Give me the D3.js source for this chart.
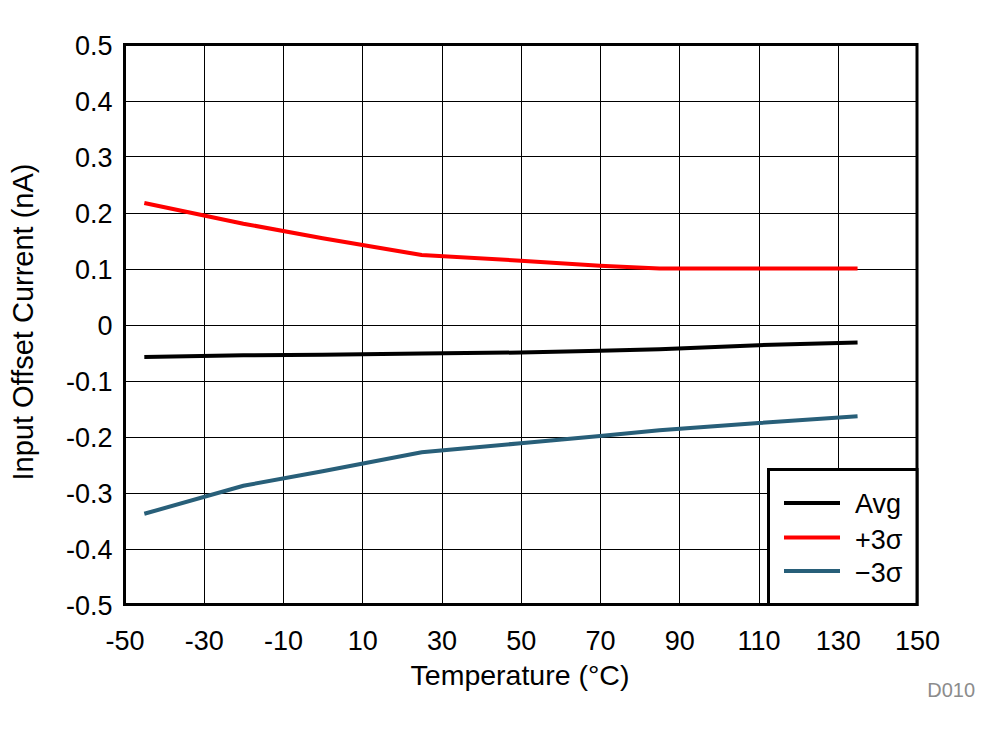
<!DOCTYPE html>
<html><head><meta charset="utf-8">
<script src="https://cdn.jsdelivr.net/npm/d3@7"></script>
<style>body{margin:0;background:#fff}svg{display:block}text{font-family:"Liberation Sans",Arial,sans-serif}</style>
</head><body>
<script>
const temps = [-45, -20, 0, 25, 50, 70, 85, 110, 135];
const avgVals = [-0.058, -0.055, -0.054, -0.052, -0.050, -0.047, -0.044, -0.037, -0.032];
const plusVals = [0.217, 0.180, 0.154, 0.124, 0.114, 0.105, 0.100, 0.100, 0.100];
const minusVals = [-0.338, -0.288, -0.262, -0.228, -0.212, -0.199, -0.189, -0.176, -0.164];
const xTicks = [-50, -30, -10, 10, 30, 50, 70, 90, 110, 130, 150];
const yTicks = [-0.5, -0.4, -0.3, -0.2, -0.1, 0, 0.1, 0.2, 0.3, 0.4, 0.5];
const seriesNames = ["Avg", "+3\u03C3", "\u22123\u03C3"];
const seriesColors = ["#000000", "#ff0000", "#285f79"];

const W = 1000, H = 734;
const L = 124.5, R = 917, T = 44.5, B = 604.5;
const svg = d3.select("body").append("svg").attr("width", W).attr("height", H);
const x = d3.scaleLinear().domain([-50, 150]).range([L, R]);
const y = d3.scaleLinear().domain([-0.5, 0.5]).range([B, T]);
const FONT = "Liberation Sans, Arial, sans-serif";

// grid
const grid = svg.append("g");
grid.selectAll("line.v").data(xTicks).join("line")
  .attr("x1", d => Math.round(x(d)) + 0.5).attr("x2", d => Math.round(x(d)) + 0.5)
  .attr("y1", T).attr("y2", B).attr("stroke", "#000").attr("stroke-width", 1);
grid.selectAll("line.h").data(yTicks).join("line")
  .attr("y1", d => Math.round(y(d)) + 0.5).attr("y2", d => Math.round(y(d)) + 0.5)
  .attr("x1", L).attr("x2", R).attr("stroke", "#000").attr("stroke-width", 1);

// axes labels (hyphen-minus as in the reference)
const fmtY = d => d === 0 ? "0" : d3.format(".1f")(d).replace("\u2212", "-");
const yAxis = d3.axisLeft(y).tickValues(yTicks).tickFormat(fmtY).tickSize(0).tickPadding(12);
const gy = svg.append("g").attr("transform", `translate(${L},0)`).call(yAxis);
gy.select(".domain").remove();
gy.attr("font-size", 27).attr("font-family", FONT);
gy.selectAll("text").attr("fill", "#000").attr("dy", "0.36em");
const xAxis = d3.axisBottom(x).tickValues(xTicks).tickFormat(d => String(d)).tickSize(0).tickPadding(0);
const gx = svg.append("g").attr("transform", `translate(0,${B})`).call(xAxis);
gx.select(".domain").remove();
gx.attr("font-size", 27).attr("font-family", FONT);
gx.selectAll("text").attr("fill", "#000").attr("y", 45).attr("dy", null);

// lines
const allSeries = [avgVals, plusVals, minusVals];
const line = d3.line().x((d, i) => x(temps[i])).y(d => y(d));
svg.append("g").selectAll("path").data(allSeries).join("path")
  .attr("d", d => line(d)).attr("fill", "none")
  .attr("stroke", (d, i) => seriesColors[i]).attr("stroke-width", 4);

// frame
svg.append("rect").attr("x", L).attr("y", T).attr("width", R - L).attr("height", B - T)
  .attr("fill", "none").attr("stroke", "#000").attr("stroke-width", 3);

// legend
const lg = svg.append("g");
lg.append("rect").attr("x", 768.5).attr("y", 469.5).attr("width", R - 768.5).attr("height", B - 469.5)
  .attr("fill", "#fff").attr("stroke", "#000").attr("stroke-width", 3);
const ly = [503, 537.5, 571];
const lyText = [513, 549, 582];
seriesNames.forEach((n, i) => {
  lg.append("line").attr("x1", 784).attr("x2", 840).attr("y1", ly[i]).attr("y2", ly[i])
    .attr("stroke", seriesColors[i]).attr("stroke-width", 4);
  lg.append("text").attr("x", 855).attr("y", lyText[i]).attr("font-size", 27).text(n);
});

// titles
svg.append("text").attr("x", 520).attr("y", 685).attr("text-anchor", "middle").attr("font-size", 28.5)
  .text("Temperature (\u00B0C)");
svg.append("text").attr("transform", "translate(33,322) rotate(-90)").attr("text-anchor", "middle")
  .attr("font-size", 29).text("Input Offset Current (nA)");
svg.append("text").attr("x", 975).attr("y", 697).attr("text-anchor", "end").attr("font-size", 20)
  .attr("fill", "#8c8c8c").text("D010");
</script>
</body></html>
